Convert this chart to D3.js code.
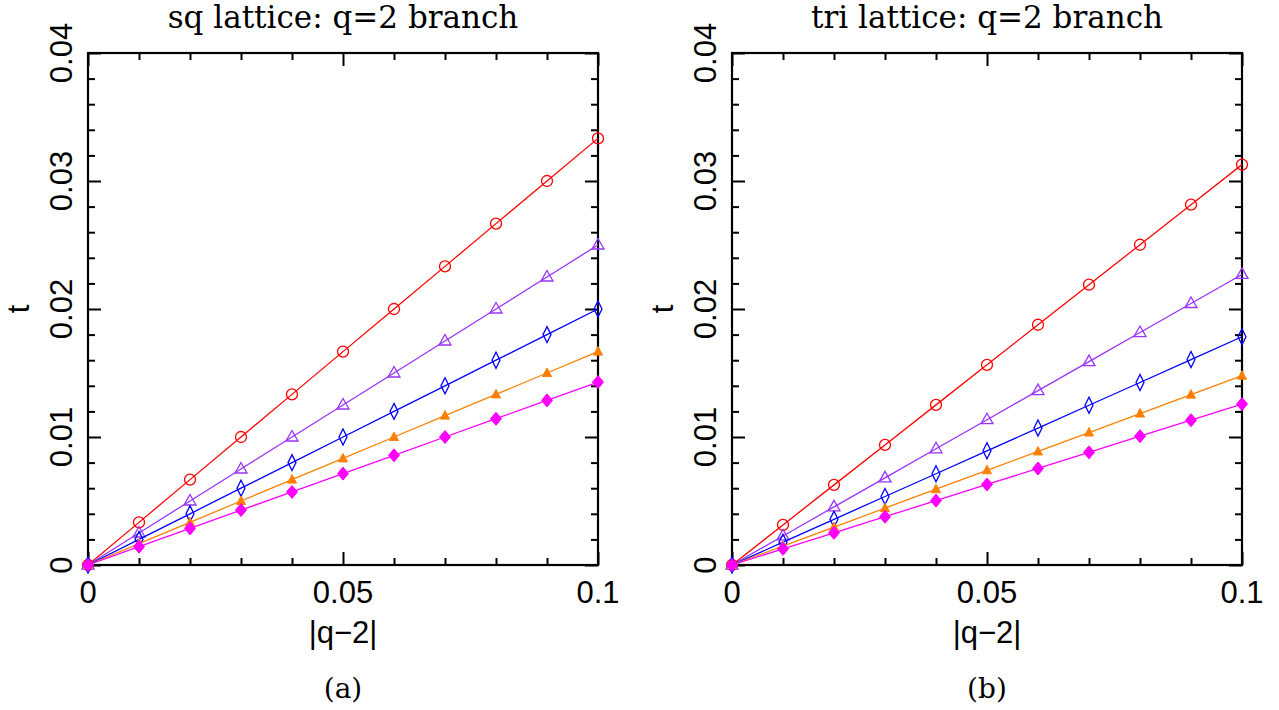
<!DOCTYPE html>
<html>
<head>
<meta charset="utf-8">
<script src="https://cdn.jsdelivr.net/npm/d3@7"></script>
<style>
  html, body { margin: 0; padding: 0; background: #fff; }
  svg { display: block; }
</style>
</head>
<body>
<svg id="chart" width="1279" height="710"></svg>
<script>
// |q-2| values shared by all curves
const qDist = [0, 0.01, 0.02, 0.03, 0.04, 0.05, 0.06, 0.07, 0.08, 0.09, 0.1];

// square lattice, q=2 branch
const sqCircle   = [0, 0.00333, 0.00667, 0.01, 0.01333, 0.01667, 0.02, 0.02333, 0.02667, 0.03, 0.03333];
const sqTriOpen  = [0, 0.0025, 0.005, 0.0075, 0.01, 0.0125, 0.015, 0.0175, 0.02, 0.0225, 0.025];
const sqDiaOpen  = [0, 0.002, 0.004, 0.006, 0.008, 0.01, 0.012, 0.014, 0.016, 0.018, 0.02];
const sqTriFill  = [0, 0.00167, 0.00333, 0.005, 0.00667, 0.00833, 0.01, 0.01167, 0.01333, 0.015, 0.01667];
const sqDiaFill  = [0, 0.00143, 0.00286, 0.00429, 0.00571, 0.00714, 0.00857, 0.01, 0.01143, 0.01286, 0.01429];

// triangular lattice, q=2 branch
const triCircle  = [0, 0.00313, 0.00626, 0.00938, 0.01251, 0.01564, 0.01877, 0.0219, 0.02502, 0.02815, 0.03128];
const triTriOpen = [0, 0.00227, 0.00454, 0.00681, 0.00908, 0.01135, 0.01362, 0.01589, 0.01816, 0.02043, 0.0227];
const triDiaOpen = [0, 0.00178, 0.00357, 0.00535, 0.00713, 0.00892, 0.0107, 0.01248, 0.01426, 0.01605, 0.01783];
const triTriFill = [0, 0.00148, 0.00296, 0.00444, 0.00592, 0.0074, 0.00887, 0.01035, 0.01183, 0.01331, 0.01479];
const triDiaFill = [0, 0.00126, 0.00251, 0.00377, 0.00503, 0.00629, 0.00754, 0.0088, 0.01006, 0.01131, 0.01257];

const xTickValues = [0, 0.05, 0.1];
const xTickLabels = ["0", "0.05", "0.1"];
const yTickValues = [0, 0.01, 0.02, 0.03, 0.04];
const yTickLabels = ["0", "0.01", "0.02", "0.03", "0.04"];

const panelTitles = ["sq lattice: q=2 branch", "tri lattice: q=2 branch"];
const panelCaptions = ["(a)", "(b)"];
const xLabel = "|q\u22122|";
const yLabel = "t";

const seriesStyles = [
  { color: "#ff0000", marker: "circle" },
  { color: "#9933ff", marker: "triOpen" },
  { color: "#0000ff", marker: "diaOpen" },
  { color: "#ff8000", marker: "triFill" },
  { color: "#ff00ff", marker: "diaFill" }
];

const panels = [
  { title: panelTitles[0], caption: panelCaptions[0], left: 88,
    series: [sqCircle, sqTriOpen, sqDiaOpen, sqTriFill, sqDiaFill] },
  { title: panelTitles[1], caption: panelCaptions[1], left: 732,
    series: [triCircle, triTriOpen, triDiaOpen, triTriFill, triDiaFill] }
];

const svg = d3.select("#chart");
const plotW = 510, plotTop = 53, plotBottom = 565;
const sansFont = "'Liberation Sans', Arial, sans-serif";
const serifFont = "'DejaVu Serif', 'Liberation Serif', serif";

function markerPath(kind) {
  switch (kind) {
    case "triOpen": return "M0,-6.5L6,4L-6,4Z";
    case "diaOpen": return "M0,-8L4,0L0,8L-4,0Z";
    case "triFill": return "M0,-5L4.5,3.5L-4.5,3.5Z";
    case "diaFill": return "M0,-6.5L5.5,0L0,6.5L-5.5,0Z";
  }
  return null;
}

panels.forEach(p => {
  const g = svg.append("g");
  const x = d3.scaleLinear().domain([0, 0.1]).range([p.left, p.left + plotW]);
  const y = d3.scaleLinear().domain([0, 0.04]).range([plotBottom, plotTop]);
  const cx = p.left + plotW / 2;

  // inward ticks: major and minor, on all four sides
  const xMinor = d3.range(0, 0.1001, 0.01).filter(v => !xTickValues.some(t => Math.abs(t - v) < 1e-9));
  const yMinor = d3.range(0, 0.0401, 0.002).filter(v => !yTickValues.some(t => Math.abs(t - v) < 1e-9));

  const axisStyle = sel => {
    sel.select(".domain").remove();
    sel.selectAll("line").attr("stroke", "#000").attr("stroke-width", 2);
    sel.selectAll("text").remove();
  };
  g.append("g").attr("transform", `translate(0,${plotBottom})`)
    .call(d3.axisBottom(x).tickValues(xTickValues).tickSize(-13)).call(axisStyle);
  g.append("g").attr("transform", `translate(0,${plotBottom})`)
    .call(d3.axisBottom(x).tickValues(xMinor).tickSize(-7)).call(axisStyle);
  g.append("g").attr("transform", `translate(0,${plotTop})`)
    .call(d3.axisTop(x).tickValues(xTickValues).tickSize(-13)).call(axisStyle);
  g.append("g").attr("transform", `translate(0,${plotTop})`)
    .call(d3.axisTop(x).tickValues(xMinor).tickSize(-7)).call(axisStyle);
  g.append("g").attr("transform", `translate(${p.left},0)`)
    .call(d3.axisLeft(y).tickValues(yTickValues).tickSize(-13)).call(axisStyle);
  g.append("g").attr("transform", `translate(${p.left},0)`)
    .call(d3.axisLeft(y).tickValues(yMinor).tickSize(-7)).call(axisStyle);
  g.append("g").attr("transform", `translate(${p.left + plotW},0)`)
    .call(d3.axisRight(y).tickValues(yTickValues).tickSize(-13)).call(axisStyle);
  g.append("g").attr("transform", `translate(${p.left + plotW},0)`)
    .call(d3.axisRight(y).tickValues(yMinor).tickSize(-7)).call(axisStyle);

  // frame
  g.append("rect")
    .attr("x", x(0)).attr("y", y(0.04))
    .attr("width", x(0.1) - x(0)).attr("height", y(0) - y(0.04))
    .attr("fill", "none").attr("stroke", "#000").attr("stroke-width", 2.2);

  // tick labels
  g.selectAll(".xl").data(xTickValues).enter().append("text")
    .attr("x", d => x(d)).attr("y", 603)
    .attr("text-anchor", "middle")
    .attr("font-family", sansFont).attr("font-size", 31)
    .text((d, i) => xTickLabels[i]);
  g.selectAll(".yl").data(yTickValues).enter().append("text")
    .attr("transform", d => `translate(${p.left - 16},${y(d)}) rotate(-90)`)
    .attr("text-anchor", "middle")
    .attr("font-family", sansFont).attr("font-size", 31)
    .text((d, i) => yTickLabels[i]);

  // axis titles
  g.append("text").attr("x", cx).attr("y", 643).attr("text-anchor", "middle")
    .attr("font-family", sansFont).attr("font-size", 31).text(xLabel);
  g.append("text").attr("transform", `translate(${p.left - 59},${(plotTop + plotBottom) / 2}) rotate(-90)`)
    .attr("text-anchor", "middle")
    .attr("font-family", sansFont).attr("font-size", 31).text(yLabel);

  // panel title and caption
  g.append("text").attr("x", cx).attr("y", 28).attr("text-anchor", "middle")
    .attr("font-family", serifFont).attr("font-size", 31).text(p.title);
  g.append("text").attr("x", cx).attr("y", 698).attr("text-anchor", "middle")
    .attr("font-family", serifFont).attr("font-size", 28).text(p.caption);

  // curves
  const line = d3.line().x(d => x(d[0])).y(d => y(d[1]));
  p.series.forEach((vals, si) => {
    const st = seriesStyles[si];
    const pts = qDist.map((q, i) => [q, vals[i]]);
    g.append("path").datum(pts).attr("d", line)
      .attr("fill", "none").attr("stroke", st.color).attr("stroke-width", 1.3);
    const mk = g.append("g").selectAll("g").data(pts).enter().append("g")
      .attr("transform", d => `translate(${x(d[0])},${y(d[1])})`);
    if (st.marker === "circle") {
      mk.append("circle").attr("r", 5.5).attr("fill", "none")
        .attr("stroke", st.color).attr("stroke-width", 1.3);
    } else {
      const filled = st.marker.endsWith("Fill");
      mk.append("path").attr("d", markerPath(st.marker))
        .attr("fill", filled ? st.color : "none")
        .attr("stroke", st.color).attr("stroke-width", filled ? 1 : 1.3);
    }
  });
});
</script>
</body>
</html>
